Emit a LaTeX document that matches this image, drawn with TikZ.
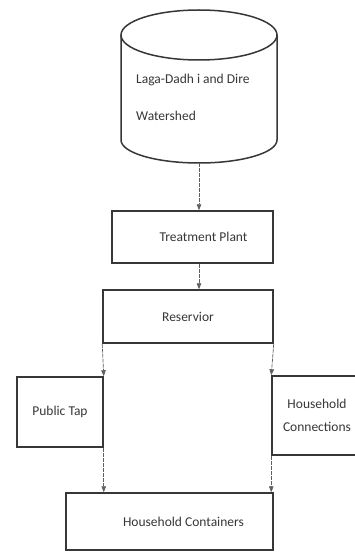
\documentclass[tikz,border=0pt]{standalone}
\usepackage{fontspec}
\setmainfont{Carlito}
\usetikzlibrary{arrows.meta}

\definecolor{inkgray}{RGB}{55,55,55}
\definecolor{linegray}{RGB}{95,95,95}

\begin{document}
\begin{tikzpicture}[x=1pt,y=-1pt,
  box/.style={draw=inkgray,line width=1.5pt,fill=white,text=inkgray,
    font=\fontsize{13.5}{23}\selectfont,inner sep=0pt},
  flow/.style={draw=linegray,line width=0.7pt,dash pattern=on 4pt off 1pt,
    -{Triangle[width=4.5pt,length=6pt]}}]

\clip (0,0) rectangle (355,553) ;
\fill[white] (0,0) rectangle (355,553) ;

\draw[inkgray,line width=1.5pt,fill=white] (121,35) -- (121,140)
  arc[start angle=180,end angle=0,x radius=78,y radius=23] -- (277,35) ;
\draw[inkgray,line width=1.5pt] (199,35) ellipse[x radius=78,y radius=25] ;

\node[text=inkgray,font=\fontsize{13.5}{37}\selectfont,align=left,anchor=north west,inner sep=0pt]
  (shed) at (136,74) {Laga-Dadh i and Dire\\Watershed} ;
\coordinate (shedbot) at (199,163) ;

\node[box,minimum width=161pt,minimum height=52pt] (plant) at (192.5,237) {\hspace*{22pt}Treatment Plant} ;
\node[box,minimum width=170pt,minimum height=53pt] (res) at (188,316.5) {Reservior} ;
\node[box,minimum width=86pt,minimum height=70pt] (tap) at (60,412) {Public Tap} ;
\node[box,minimum width=90pt,minimum height=79pt,align=center] (conn) at (317,415.5) {Household\\Connections} ;
\node[box,minimum width=207pt,minimum height=57pt] (cont) at (169.5,521.5) {\hspace*{28pt}Household Containers} ;

\draw[flow] (shedbot) -- (shedbot |- plant.north) ;
\draw[flow] (plant.south -| shedbot) -- (res.north -| shedbot) ;
\draw[flow] (res.south west) -- (tap.north east) ;
\draw[flow] (res.south east) -- (conn.north west) ;
\draw[flow] (tap.south east) -- (tap.south east |- cont.north) ;
\draw[flow] (conn.south west) -- (conn.south west |- cont.north) ;

\end{tikzpicture}
\end{document}
